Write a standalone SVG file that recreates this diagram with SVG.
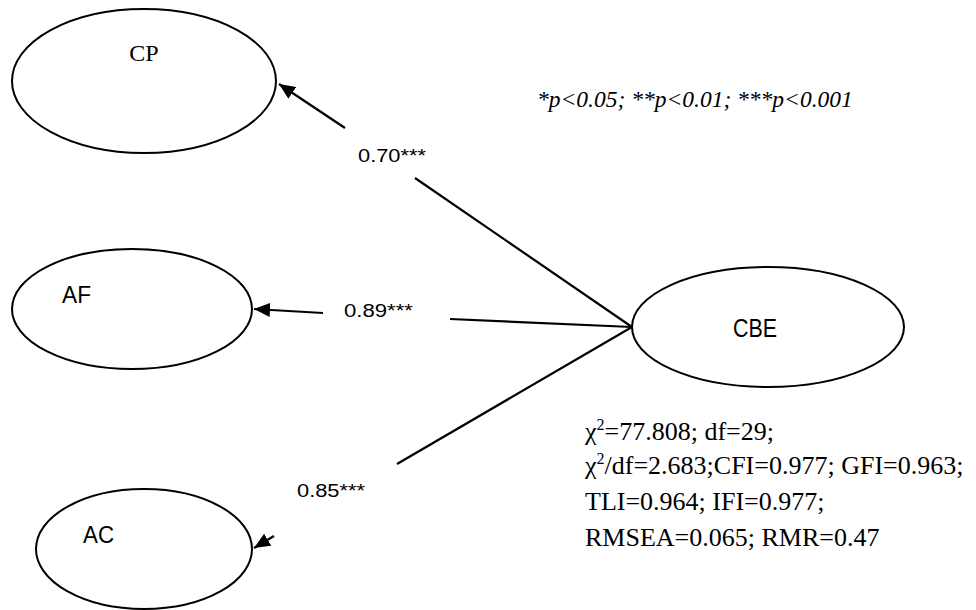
<svg xmlns="http://www.w3.org/2000/svg" width="976" height="610" viewBox="0 0 976 610">
<style>
.node{fill:#fff;stroke:#000;stroke-width:2}
.serif{font-family:"Liberation Serif","Times New Roman",serif;fill:#000}
.sans{font-family:"Liberation Sans",Arial,sans-serif;fill:#000}
.conn{stroke:#000;stroke-width:2.2;fill:none}
</style>
<defs>
<marker id="arr" markerUnits="userSpaceOnUse" markerWidth="18" markerHeight="14" refX="16" refY="7" orient="auto">
<path d="M0,0 L16,7 L0,14 Z" fill="#000"/>
</marker>
</defs>
<rect width="976" height="610" fill="#fff"/>
<g id="connectors">
<line class="conn" x1="345" y1="128" x2="279" y2="84" marker-end="url(#arr)"/>
<line class="conn" x1="415" y1="178" x2="632" y2="327"/>
<line class="conn" x1="323" y1="313" x2="254" y2="309" marker-end="url(#arr)"/>
<line class="conn" x1="450" y1="319" x2="632" y2="327"/>
<line class="conn" x1="274" y1="536" x2="254" y2="548" marker-end="url(#arr)"/>
<line class="conn" x1="397" y1="464" x2="632" y2="327"/>
<text class="sans" x="358" y="162" font-size="18" textLength="68" lengthAdjust="spacingAndGlyphs">0.70***</text>
<text class="sans" x="344" y="317" font-size="18" textLength="69" lengthAdjust="spacingAndGlyphs">0.89***</text>
<text class="sans" x="297" y="497" font-size="18" textLength="68" lengthAdjust="spacingAndGlyphs">0.85***</text>
</g>
<g id="CP">
<ellipse class="node" cx="144" cy="81" rx="132" ry="72"/>
<text class="serif" x="144" y="61" font-size="24" text-anchor="middle">CP</text>
</g>
<g id="AF">
<ellipse class="node" cx="132" cy="309" rx="120" ry="60"/>
<text class="sans" x="62" y="303" font-size="24" textLength="29" lengthAdjust="spacingAndGlyphs">AF</text>
</g>
<g id="AC">
<ellipse class="node" cx="144" cy="549" rx="108" ry="60"/>
<text class="sans" x="83" y="543" font-size="24" textLength="31" lengthAdjust="spacingAndGlyphs">AC</text>
</g>
<g id="CBE">
<ellipse class="node" cx="768" cy="327" rx="136" ry="60"/>
<text class="sans" x="733" y="337" font-size="26" textLength="44" lengthAdjust="spacingAndGlyphs">CBE</text>
</g>
<g id="notes">
<text class="serif" x="537" y="107" font-size="23.5" font-style="italic">*p&lt;0.05; **p&lt;0.01; ***p&lt;0.001</text>
<text class="serif" x="585" y="440" font-size="26">χ<tspan font-size="16" dy="-10">2</tspan><tspan dy="10">=77.808; df=29;</tspan></text>
<text class="serif" x="585" y="474" font-size="26">χ<tspan font-size="16" dy="-10">2</tspan><tspan dy="10">/df=2.683;CFI=0.977; GFI=0.963;</tspan></text>
<text class="serif" x="585" y="510" font-size="26">TLI=0.964; IFI=0.977;</text>
<text class="serif" x="585" y="546" font-size="26">RMSEA=0.065; RMR=0.47</text>
</g>
</svg>
